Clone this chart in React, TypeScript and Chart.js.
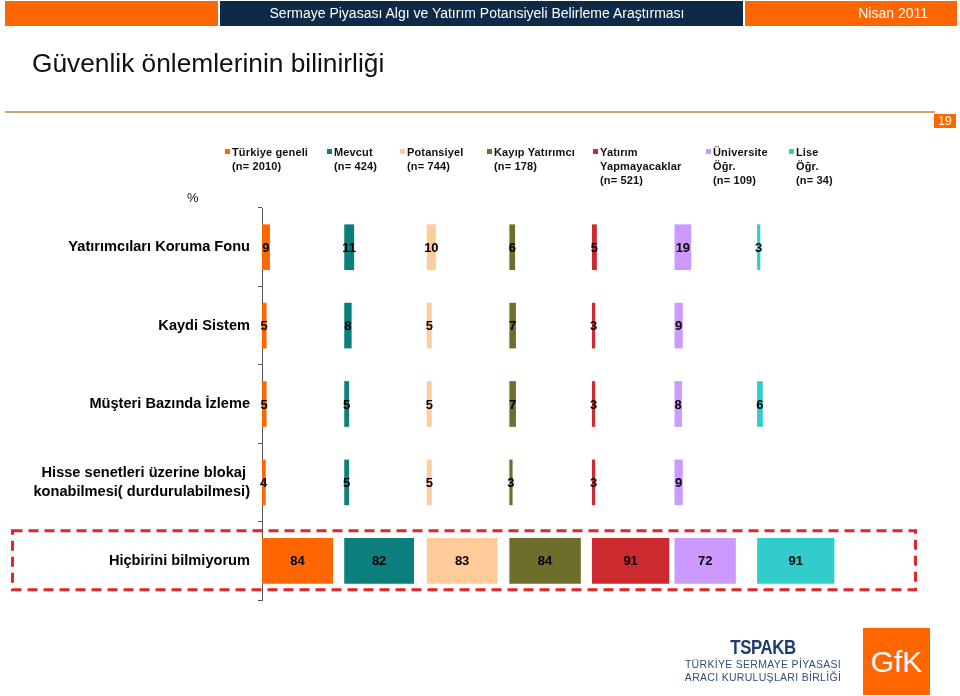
import React, { useEffect, useRef } from "react";
import { Chart, registerables } from "chart.js";

Chart.register(...registerables);

const categories: (string | string[])[] = [
  "Yatırımcıları Koruma Fonu",
  "Kaydi Sistem",
  "Müşteri Bazında İzleme",
  ["Hisse senetleri üzerine blokaj ", "konabilmesi( durdurulabilmesi)"],
  "Hiçbirini bilmiyorum",
];

const seriesNames = [
  ["Türkiye geneli", "(n= 2010)"],
  ["Mevcut", "(n= 424)"],
  ["Potansiyel", "(n= 744)"],
  ["Kayıp Yatırımcı", "(n= 178)"],
  ["Yatırım", "Yapmayacaklar", "(n= 521)"],
  ["Üniversite", "Öğr.", "(n= 109)"],
  ["Lise", "Öğr.", "(n= 34)"],
];

const turkiyeGeneli = [9, 5, 5, 4, 84];
const mevcut = [11, 8, 5, 5, 82];
const potansiyel = [10, 5, 5, 5, 83];
const kayipYatirimci = [6, 7, 7, 3, 84];
const yatirimYapmayacaklar = [5, 3, 3, 3, 91];
const universiteOgr = [19, 9, 8, 9, 72];
const liseOgr = [3, null, 6, null, 91];

const seriesValues: (number | null)[][] = [
  turkiyeGeneli,
  mevcut,
  potansiyel,
  kayipYatirimci,
  yatirimYapmayacaklar,
  universiteOgr,
  liseOgr,
];

const colors = ["#ff6600", "#0b7f7c", "#ffcc99", "#6e6e2c", "#cc2a2e", "#cc99ff", "#33cccc"];

const COL = 98; // units per panel column

const legendX = [225, 327, 400, 487, 593, 706, 789];

const font = "'Liberation Sans', Arial, sans-serif";

const labelPlugin = {
  id: "valueLabels",
  afterDatasetsDraw(chart: any) {
    const ctx = chart.ctx;
    ctx.save();
    ctx.fillStyle = "#000";
    ctx.textAlign = "center";
    ctx.textBaseline = "middle";
    ctx.font = `bold 13px ${font}`;
    chart.data.datasets.forEach((ds: any, di: number) => {
      const meta = chart.getDatasetMeta(di);
      meta.data.forEach((el: any, i: number) => {
        const v = seriesValues[di][i];
        if (v === null || v === undefined) return;
        const cx = (el.x + el.base) / 2;
        ctx.fillText(String(v), cx, el.y + 1);
      });
    });
    ctx.restore();
  },
};

const boxPlugin = {
  id: "dashedBox",
  afterDraw(chart: any) {
    const ctx = chart.ctx;
    const yScale = chart.scales.y;
    const last = categories.length - 1;
    const yc = yScale.getPixelForValue(last);
    ctx.save();
    ctx.strokeStyle = "#e0262a";
    ctx.lineWidth = 3;
    ctx.setLineDash([10, 6]);
    ctx.strokeRect(12.5, yc - 30, 903, 59);
    ctx.restore();
  },
};

export default function App() {
  const ref = useRef<HTMLCanvasElement | null>(null);

  useEffect(() => {
    if (!ref.current) return;
    const datasets = seriesValues.map((vals, si) => ({
      label: seriesNames[si].join(" "),
      data: vals.map((v) => (v === null ? null : [si * COL, si * COL + v])),
      backgroundColor: colors[si],
      borderWidth: 0,
      grouped: false,
      barThickness: 45,
    }));
    const chart = new Chart(ref.current, {
      type: "bar",
      data: { labels: categories as any, datasets: datasets as any },
      options: {
        indexAxis: "y",
        animation: false,
        responsive: false,
        maintainAspectRatio: false,
        layout: { padding: { top: 208, bottom: 96, left: 0, right: 120 } },
        plugins: {
          legend: { display: false },
          tooltip: { enabled: false },
          title: { display: false },
        },
        scales: {
          x: { display: false, min: 0, max: 7 * COL },
          y: {
            afterFit: (scale: any) => {
              scale.width = 262;
            },
            border: { display: true, color: "#555", width: 1 },
            grid: {
              display: true,
              drawOnChartArea: false,
              drawTicks: true,
              tickLength: 4,
              color: "#555",
              offset: true,
            },
            ticks: {
              color: "#000",
              padding: 8,
              font: { family: font, size: 14.6, weight: "bold", lineHeight: 1.35 },
            },
          },
        },
      },
      plugins: [labelPlugin, boxPlugin],
    });
    return () => chart.destroy();
  }, []);

  return (
    <div style={{ position: "absolute", left: 0, top: 0, width: 960, height: 696, background: "#fff", fontFamily: font, overflow: "hidden" }}>
      <canvas ref={ref} width={960} height={696} style={{ position: "absolute", left: 0, top: 0 }} />
      {/* header */}
      <div style={{ position: "absolute", left: 5, top: 1, width: 213, height: 25, background: "#ff6600" }} />
      <div style={{ position: "absolute", left: 220, top: 1, width: 523, height: 25, background: "#0f2a46", color: "#fff", fontSize: 14, lineHeight: "25px", textAlign: "center", paddingRight: 9, boxSizing: "border-box" }}>
        Sermaye Piyasası Algı ve Yatırım Potansiyeli Belirleme Araştırması
      </div>
      <div style={{ position: "absolute", left: 745, top: 1, width: 212, height: 25, background: "#ff6600", color: "#fff", fontSize: 14, lineHeight: "25px", textAlign: "right", paddingRight: 29, boxSizing: "border-box" }}>
        Nisan 2011
      </div>
      <div style={{ position: "absolute", left: 32, top: 48, fontSize: 26.3, color: "#111", whiteSpace: "nowrap" }}>
        Güvenlik önlemlerinin bilinirliği
      </div>
      <div style={{ position: "absolute", left: 5, top: 111, width: 930, height: 2, background: "#c9a57c" }} />
      <div style={{ position: "absolute", left: 934, top: 114, width: 22, height: 14, background: "#ff6600", color: "#fff", fontSize: 12, lineHeight: "14px", textAlign: "center" }}>19</div>
      {/* legend */}
      {seriesNames.map((lines, i) => (
        <div key={i} style={{ position: "absolute", left: legendX[i], top: 145 }}>
          <div style={{ position: "absolute", left: 0, top: 4, width: 5, height: 5, background: colors[i] }} />
          <div style={{ position: "absolute", left: 7, top: 0, fontSize: 11, fontWeight: "bold", lineHeight: "14px", letterSpacing: 0.15, whiteSpace: "nowrap", color: "#111" }}>
            {lines.map((l, j) => (
              <div key={j}>{l}</div>
            ))}
          </div>
        </div>
      ))}
      <div style={{ position: "absolute", left: 187, top: 190, fontSize: 13, color: "#111" }}>%</div>
      {/* logos */}
      <div style={{ position: "absolute", left: 683, top: 636, width: 160, textAlign: "center", color: "#1d3c70" }}>
        <div style={{ fontSize: 21, fontWeight: "bold", lineHeight: "22px", letterSpacing: -0.5, transform: "scaleX(0.8)" }}>TSPAKB</div>
        <div style={{ fontSize: 10.5, lineHeight: "13px", letterSpacing: 0.3, color: "#33507a", whiteSpace: "nowrap" }}>TÜRKİYE SERMAYE PİYASASI</div>
        <div style={{ fontSize: 10.5, lineHeight: "13px", letterSpacing: 0.3, color: "#33507a", whiteSpace: "nowrap" }}>ARACI KURULUŞLARI BİRLİĞİ</div>
      </div>
      <div style={{ position: "absolute", left: 863, top: 628, width: 67, height: 67, background: "#ff6600", color: "#fff", fontSize: 30, lineHeight: "67px", textAlign: "center" }}>GfK</div>
    </div>
  );
}
